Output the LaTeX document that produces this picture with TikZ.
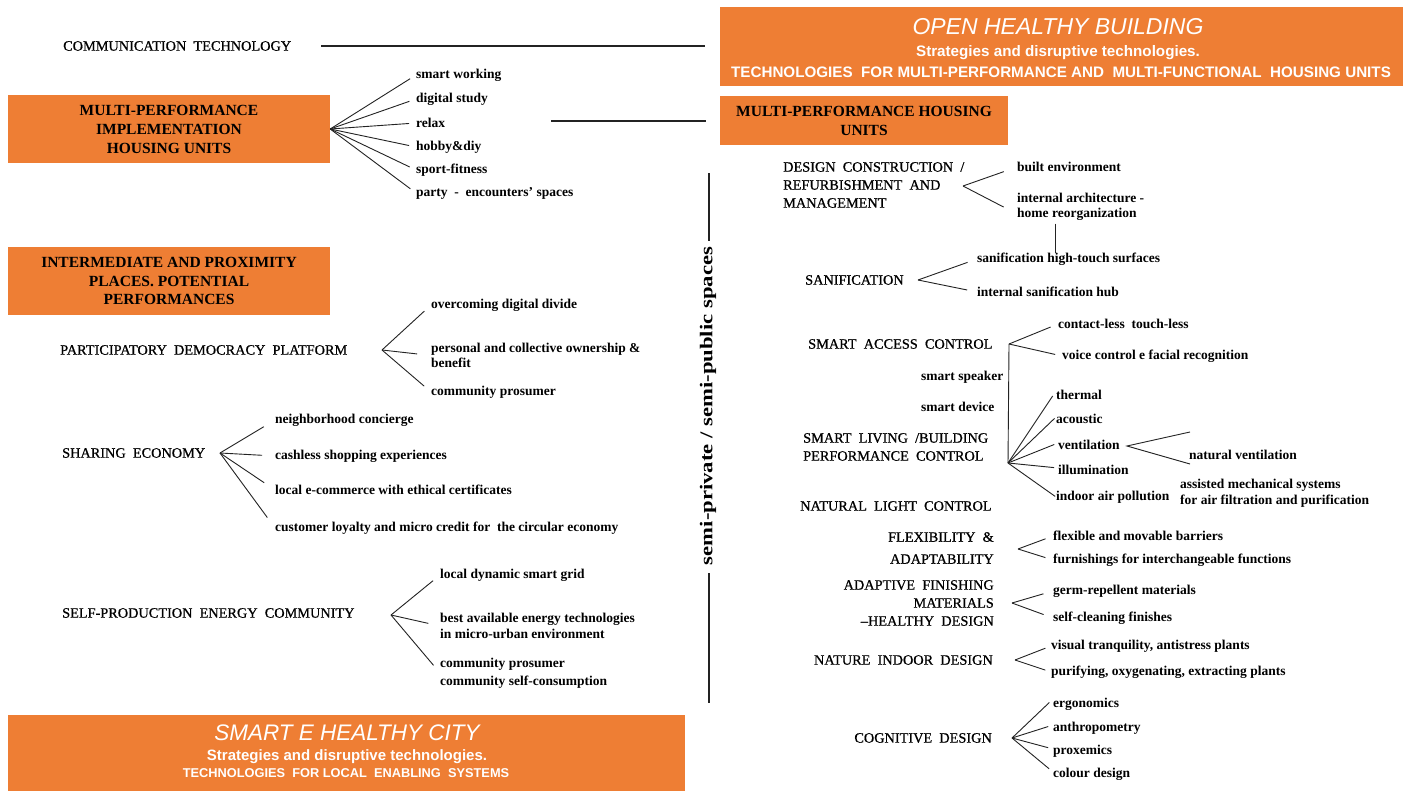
\documentclass[tikz,border=0pt]{standalone}
\usepackage{fontspec}
\setmainfont{Liberation Serif}
\newfontfamily\medf{Liberation Serif}[FakeBold=0.7,Ligatures=TeX]
\newfontfamily\sansf{Liberation Sans}
\definecolor{orng}{RGB}{238,126,52}
\definecolor{ln}{RGB}{35,35,35}
\begin{document}
\begin{tikzpicture}[x=1pt,y=-1pt,
  item/.style={anchor=west,inner sep=0pt,font=\bfseries\fontsize{13.5}{16}\selectfont,align=left},
  head/.style={anchor=west,inner sep=0pt,font=\medf\fontsize{14.3}{18}\selectfont,align=left},
  headr/.style={anchor=east,inner sep=0pt,font=\medf\fontsize{14.3}{18}\selectfont,align=right},
  obox/.style={fill=orng,inner sep=0pt,font=\bfseries\fontsize{15.5}{19}\selectfont,align=center},
  bigbox/.style={fill=orng,inner sep=0pt},
  ttl/.style={inner sep=0pt,text=white,font=\sansf\itshape\fontsize{23}{26}\selectfont},
  sub/.style={inner sep=0pt,text=white,font=\sansf\bfseries\fontsize{15.2}{18}\selectfont},
  fan/.style={draw=ln,line width=0.9pt},
  hline/.style={draw=ln,line width=1.3pt},
]
\useasboundingbox (0,0) rectangle (1404,791);
\fill[white] (0,0) rectangle (1404,791);

% ---------- top right boxes
\node[bigbox,minimum width=683,minimum height=79] (ohb) at (1061.5,46.5) {};
\node[ttl] (ohbt) at (1058,27) {OPEN HEALTHY BUILDING};
\node[sub] (ohbs) at (1058,53) {Strategies and disruptive technologies.};
\node[sub,font=\sansf\bfseries\fontsize{15.2}{18}\selectfont] (ohbl) at (1061,72) {TECHNOLOGIES~ FOR MULTI-PERFORMANCE AND~ MULTI-FUNCTIONAL~ HOUSING UNITS};
\node[obox,minimum width=288,minimum height=49] (mph) at (864,120.5) {MULTI-PERFORMANCE HOUSING\\UNITS};

% ---------- top left
\node[head] (comm) at (63,46) {COMMUNICATION~~TECHNOLOGY};
\draw[hline,shorten <=30pt,shorten >=15pt] (comm.east) -- (comm.east -| ohb.west);
\node[obox,minimum width=322,minimum height=68] (mpi) at (169,129) {MULTI-PERFORMANCE\\IMPLEMENTATION\\HOUSING UNITS};
\node[item] (sw) at (416,75) {smart working};
\node[item] (ds) at (416,99) {digital study};
\node[item] (rl) at (416,123) {relax};
\node[item] (hd) at (416,147) {hobby\&diy};
\node[item] (sf) at (416,170) {sport-fitness};
\node[item] (pe) at (416,193) {party~ -~ encounters' spaces};
\foreach \n in {sw,ds,rl,hd,sf,pe} \draw[fan,shorten >=7pt] (mpi.east) -- (\n.west);
\draw[hline,shorten <=106pt,shorten >=14pt] ([yshift=2pt]rl.east) -- ([yshift=2pt]rl.east -| mph.west);

% ---------- intermediate places
\node[obox,minimum width=322,minimum height=68,font=\bfseries\fontsize{15.5}{18.5}\selectfont] (ipp) at (169,281) {INTERMEDIATE AND PROXIMITY\\PLACES. POTENTIAL\\PERFORMANCES};

\node[head] (pdp) at (60,350) {PARTICIPATORY~~DEMOCRACY~~PLATFORM};
\coordinate (pdpA) at (382,350);
\node[item] (odd) at (431,305) {overcoming digital divide};
\node[item,font=\bfseries\fontsize{13.5}{15}\selectfont] (pco) at (431,355.5) {personal and collective ownership \&\\benefit};
\node[item] (cpr) at (431,392) {community prosumer};
\draw[fan,shorten >=9pt] (pdpA) -- (odd.west);
\draw[fan,shorten >=14pt] (pdpA) -- (pco.west);
\draw[fan,shorten >=9pt] (pdpA) -- (cpr.west);

\node[head] (se) at (62,453) {SHARING~~ECONOMY};
\coordinate (seA) at (220,453);
\node[item] (nc) at (275,420) {neighborhood concierge};
\node[item] (cs) at (275,456) {cashless shopping experiences};
\node[item] (le) at (275,490) {local e-commerce with ethical certificates};
\node[item] (cl) at (275,528) {customer loyalty and micro credit for~ the circular economy};
\foreach \n in {nc,cs,le,cl} \draw[fan,shorten >=13pt] (seA) -- (\n.west);

\node[head] (spe) at (62,613) {SELF-PRODUCTION~~ENERGY~~COMMUNITY};
\coordinate (speA) at (391,615);
\node[item] (ldg) at (440,575) {local dynamic smart grid};
\node[item] (bae) at (440,626) {best available energy technologies\\in micro-urban environment};
\node[item,font=\bfseries\fontsize{13.5}{18}\selectfont] (cps) at (440,673) {community prosumer\\community self-consumption};
\draw[fan,shorten >=9pt] (speA) -- (ldg.west);
\draw[fan,shorten >=12pt] (speA) -- (bae.west);
\draw[fan,shorten >=10pt] (speA) -- (cps.west);

% ---------- bottom box
\node[bigbox,minimum width=677,minimum height=76] (shc) at (346.5,753) {};
\node[ttl,font=\sansf\itshape\fontsize{22.5}{26}\selectfont] (shct) at (347,733) {SMART E HEALTHY CITY};
\node[sub,font=\sansf\bfseries\fontsize{15}{18}\selectfont] (shcs) at (347,757) {Strategies and disruptive technologies.};
\node[sub,font=\sansf\bfseries\fontsize{12.8}{16}\selectfont] (shcl) at (346,773) {TECHNOLOGIES~ FOR LOCAL~ ENABLING~ SYSTEMS};

% ---------- vertical label
\node[rotate=90,inner sep=0pt,font=\bfseries\fontsize{18}{20}\selectfont] (semi) at (708,406) {\scalebox{1.26}[1]{semi-private / semi-public spaces}};
\coordinate (st) at (709,173);
\coordinate (sb) at (709,703);
\draw[hline,line width=1.1pt,shorten <=6pt] (semi.east -| st) -- (st);
\draw[hline,line width=1.1pt,shorten <=8pt] (semi.west -| sb) -- (sb);

% ---------- right column
\node[head] (dcm) at (783,185) {DESIGN~~CONSTRUCTION~~/\\REFURBISHMENT~~AND\\MANAGEMENT};
\coordinate (dcmA) at (963,186);
\node[item] (be) at (1017,167) {built environment};
\node[item,font=\bfseries\fontsize{13.5}{14.5}\selectfont] (ia) at (1017,207) {internal architecture -\\home reorganization};
\draw[fan,shorten >=14pt] (dcmA) -- (be.west);
\draw[fan,shorten >=15pt] (dcmA) -- ([yshift=-7pt]ia.west);

\node[head] (san) at (805,280) {SANIFICATION};
\coordinate (sanA) at (918,280);
\node[item] (shf) at (977,259) {sanification high-touch surfaces};
\node[item] (ish) at (977,292) {internal sanification hub};
\draw[fan,shorten >=10pt] (sanA) -- (shf.west);
\draw[fan,shorten >=10pt] (sanA) -- (ish.west);
\draw[fan] ([xshift=38pt,yshift=-3pt]ia.south west) -- ([xshift=38pt]ia.south west |- shf.north);

\node[head] (sac) at (808,344) {SMART~~ACCESS~~CONTROL};
\coordinate (sacA) at (1009,344);
\node[item] (clt) at (1058,324) {contact-less~~touch-less};
\node[item] (vcf) at (1062,356) {voice control e facial recognition};
\draw[fan,shorten >=8pt] (sacA) -- (clt.west);
\draw[fan,shorten >=7pt] (sacA) -- (vcf.west);
\node[item] (ssp) at (921,377) {smart speaker};
\node[item] (sdv) at (921,407) {smart device};

\node[head] (slb) at (803,447) {SMART~~LIVING~~/BUILDING\\PERFORMANCE~~CONTROL};
\coordinate (slbA) at (1008,463);
\draw[fan] (sacA) -- (slbA);
\node[item] (th) at (1056,395) {thermal};
\node[item] (ac) at (1056,419) {acoustic};
\node[item] (ve) at (1058,445) {ventilation};
\node[item] (il) at (1058,470) {illumination};
\node[item] (iap) at (1056,497) {indoor air pollution};
\draw[fan,shorten >=6pt] (slbA) -- ([yshift=4pt]th.west);
\draw[fan,shorten >=2pt] (slbA) -- ([yshift=2pt]ac.west);
\draw[fan,shorten >=4pt] (slbA) -- ([yshift=2pt]ve.west);
\draw[fan,shorten >=4pt] (slbA) -- ([yshift=2pt]il.west);
\draw[fan,shorten >=1pt] (slbA) -- (iap.west);
\coordinate (veA) at (1127,446);
\coordinate (veT) at (1190,432);
\coordinate (veB) at (1190,464);
\draw[fan] (veT) -- (veA) -- (veB);
\node[item] (nv) at (1189,455) {natural ventilation};
\node[item] (ams) at (1180,493) {assisted mechanical systems\\for air filtration and purification};

\node[head] (nlc) at (800,506) {NATURAL~~LIGHT~~CONTROL};

\node[headr,font=\medf\fontsize{14.3}{22}\selectfont] (fa) at (994,548) {FLEXIBILITY~~\&\\ADAPTABILITY};
\coordinate (faA) at (1018,549);
\node[item] (fmb) at (1053,536) {flexible and movable barriers};
\node[item] (fif) at (1053,560) {furnishings for interchangeable functions};
\draw[fan,shorten >=8pt] (faA) -- (fmb.west);
\draw[fan,shorten >=8pt] (faA) -- (fif.west);

\node[headr] (afm) at (994,603) {ADAPTIVE~~FINISHING\\MATERIALS\\–HEALTHY~~DESIGN};
\coordinate (afmA) at (1012,603);
\node[item] (grm) at (1053,591) {germ-repellent materials};
\node[item] (scf) at (1053,618) {self-cleaning finishes};
\draw[fan,shorten >=10pt] (afmA) -- (grm.west);
\draw[fan,shorten >=10pt] (afmA) -- (scf.west);

\node[headr] (nid) at (993,660) {NATURE~~INDOOR~~DESIGN};
\coordinate (nidA) at (1015,660);
\node[item] (vta) at (1051,646) {visual tranquility, antistress plants};
\node[item] (poe) at (1051,672) {purifying, oxygenating, extracting plants};
\draw[fan,shorten >=6pt] (nidA) -- (vta.west);
\draw[fan,shorten >=6pt] (nidA) -- (poe.west);

\node[headr] (cog) at (992,738) {COGNITIVE~~DESIGN};
\coordinate (cogA) at (1012,738);
\node[item] (erg) at (1053,704) {ergonomics};
\node[item] (ant) at (1053,728) {anthropometry};
\node[item] (prx) at (1053,751) {proxemics};
\node[item] (cd) at (1053,774) {colour design};
\draw[fan,shorten >=5pt] (cogA) -- ([yshift=5pt]erg.west);
\draw[fan,shorten >=5pt] (cogA) -- ([yshift=3pt]ant.west);
\draw[fan,shorten >=5pt] (cogA) -- ([yshift=2pt]prx.west);
\draw[fan,shorten >=5pt] (cogA) -- ([yshift=2pt]cd.west);
\end{tikzpicture}
\end{document}
